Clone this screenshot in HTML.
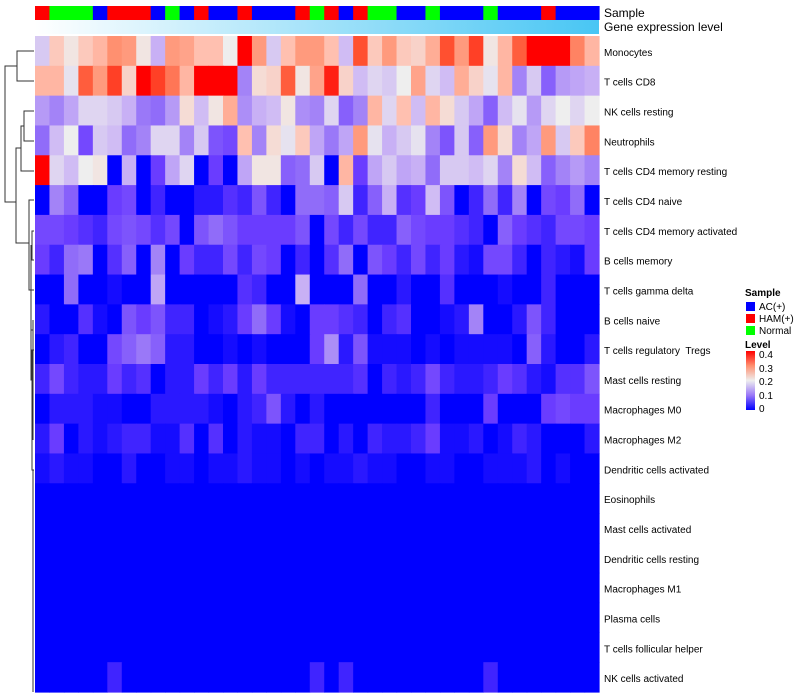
<!DOCTYPE html>
<html><head><meta charset="utf-8"><style>
body{margin:0;background:#fff;font-family:"Liberation Sans",sans-serif}
svg{display:block}
#rowlabels text{white-space:pre}
</style></head><body>
<svg id="chart" width="800" height="700" xmlns="http://www.w3.org/2000/svg">
<defs>
<linearGradient id="geneGrad" x1="0" x2="1" y1="0" y2="0"><stop offset="0" stop-color="#ffffff"/><stop offset="1" stop-color="#48c6f4"/></linearGradient>
<linearGradient id="levelGrad" x1="0" x2="0" y1="1" y2="0">
<stop offset="0" stop-color="#0000ff"/><stop offset="0.25" stop-color="#9a78f8"/><stop offset="0.5" stop-color="#eeeeee"/><stop offset="0.75" stop-color="#ff9070"/><stop offset="1" stop-color="#ff0000"/></linearGradient>
</defs>
<g id="cells"></g>
<g id="samplebar"></g>
<rect x="35" y="20" width="564" height="14" fill="url(#geneGrad)"/>
<text x="604" y="17" font-size="12">Sample</text>
<text x="604" y="31" font-size="12">Gene expression level</text>
<g id="rowlabels"></g>
<g fill="none" stroke="#333" stroke-width="1">
<path d="M34 51H17V81H34"/>
<path d="M17 66H5V202H16"/>
<path d="M34 111H24V141H34"/>
<path d="M24 126H21V171H34"/>
<path d="M21 148H16V243H29"/>
<path d="M34 200H29V290H31"/>
<path d="M34 231H32V260H34"/>
<path d="M31 245H31V330H33"/>
<path d="M34 290H31V380H33"/>
<path d="M33 320H33V440"/>
<path d="M34 350H32V470H34"/>
<path d="M33 470V692"/>
</g>
<g font-size="10">
<text x="745" y="296" font-weight="bold">Sample</text>
<rect x="746" y="302" width="9" height="9" fill="#0000ff"/>
<text x="759" y="310">AC(+)</text>
<rect x="746" y="314" width="9" height="9" fill="#ff0000"/>
<text x="759" y="322">HAM(+)</text>
<rect x="746" y="326" width="9" height="9" fill="#00ff00"/>
<text x="759" y="334">Normal</text>
<text x="745" y="348" font-weight="bold">Level</text>
<rect x="746" y="351" width="9" height="59" fill="url(#levelGrad)"/>
<text x="759" y="358">0.4</text>
<text x="759" y="372">0.3</text>
<text x="759" y="385">0.2</text>
<text x="759" y="399">0.1</text>
<text x="759" y="412">0</text>
</g>
</svg>
<script>
const rowNames=["Monocytes","T cells CD8","NK cells resting","Neutrophils","T cells CD4 memory resting","T cells CD4 naive","T cells CD4 memory activated","B cells memory","T cells gamma delta","B cells naive","T cells regulatory  Tregs","Mast cells resting","Macrophages M0","Macrophages M2","Dendritic cells activated","Eosinophils","Mast cells activated","Dendritic cells resting","Macrophages M1","Plasma cells","T cells follicular helper","NK cells activated"];
const sampleGroups="RGGGBRRRBGBRBBRBBBRGRBRGGBBGBBBGBBBRBBB".split("");
const Z=[0,0,0,0,0,0,0,0,0,0,0,0,0,0,0,0,0,0,0,0,0,0,0,0,0,0,0,0,0,0,0,0,0,0,0,0,0,0,0];
const values=[
[.17,.24,.21,.24,.26,.3,.29,.21,.15,.29,.28,.25,.25,.2,.4,.29,.17,.25,.29,.29,.25,.16,.35,.24,.29,.24,.23,.27,.35,.29,.36,.21,.26,.34,.4,.4,.4,.31,.26],
[.26,.26,.19,.34,.29,.36,.23,.4,.36,.32,.26,.4,.4,.4,.11,.22,.23,.34,.21,.28,.38,.23,.16,.18,.17,.2,.28,.18,.16,.27,.23,.19,.26,.11,.17,.08,.13,.14,.15],
[.13,.11,.14,.18,.18,.17,.15,.1,.09,.13,.22,.16,.21,.27,.12,.15,.16,.21,.12,.11,.18,.08,.11,.26,.18,.25,.16,.26,.22,.17,.14,.08,.16,.19,.13,.18,.2,.18,.2],
[.09,.16,.2,.06,.17,.16,.09,.11,.18,.18,.11,.17,.07,.06,.25,.11,.22,.19,.24,.14,.1,.14,.29,.19,.15,.17,.19,.11,.07,.17,.08,.29,.22,.11,.14,.29,.17,.24,.31],
[.4,.18,.16,.2,.21,0,.15,0,.05,.14,.18,0,.05,0,.14,.21,.21,.08,.09,.17,0,.26,.05,.14,.17,.14,.15,.09,.17,.17,.16,.18,.11,.22,.16,.08,.11,.13,.11],
[0,.11,.08,0,0,.05,.06,0,.03,0,0,.02,.02,.04,.03,.07,.03,0,.09,.09,.08,.17,.03,.08,.15,.04,.05,.16,.07,0,.03,.09,.03,.11,0,.06,.05,.09,0],
[.06,.06,.05,.04,.03,.06,.07,.06,.04,.06,0,.07,.09,.07,.05,.05,.05,.05,.07,0,.06,.03,.06,.03,.03,.08,.06,.05,.05,.04,.03,0,.08,.05,.04,.03,.06,.06,.05],
[.05,.03,.09,.1,0,.04,.08,0,.11,0,.05,.03,.03,.06,.03,.06,.05,0,.03,0,.04,.09,0,.07,.05,.03,.06,.03,.05,.02,.01,.06,.06,.03,0,.03,.02,.01,.05],
[0,0,.09,0,0,.01,0,0,.14,0,0,0,0,0,.04,.03,0,0,.15,0,0,0,.09,0,0,.02,0,0,.04,0,0,0,.01,0,0,.03,0,0,0],
[.02,0,0,.04,.01,0,.07,.05,.07,.03,.03,0,.01,.02,.05,.09,.05,.01,0,.05,.05,.04,.03,0,.03,.04,0,0,.01,.02,.11,0,0,.02,.07,.03,0,0,0],
[0,.02,.03,0,0,.06,.08,.1,.08,.02,.02,0,0,.01,0,.01,0,0,0,.05,.12,.02,.07,.01,.01,.01,0,.01,0,.01,.01,.01,.01,0,.08,.02,0,0,.02],
[.03,.06,.03,.02,.02,.05,.03,.04,0,.02,.02,.05,.03,.05,.02,.05,.03,.03,.03,.03,.03,.03,.04,0,.03,.02,.03,.06,.03,.02,.02,.03,.05,.04,.02,.01,.04,.04,.07],
[0,.02,.02,.02,.01,.01,0,0,.02,.02,.02,.02,.01,0,.02,.03,.07,.02,0,.02,0,0,0,0,0,0,0,.03,0,0,0,.05,0,0,0,.05,.06,.05,.05],
[.02,.05,0,.02,.01,.02,.03,.03,.01,.01,.04,0,.04,0,.02,.01,.01,0,.03,.03,0,.02,0,.03,.02,.02,.03,.05,.01,.01,.02,0,.01,.03,.02,0,0,0,.02],
[.01,.02,.01,.01,0,0,.02,0,0,.01,.01,0,.01,.01,.02,.01,.01,0,.01,0,.01,.01,.02,.01,.01,0,0,.01,.01,0,0,.01,.01,.01,.02,0,.01,0,0],
Z,Z,Z,Z,Z,Z,
[0,0,0,0,0,.03,0,0,0,0,0,0,0,0,0,0,0,0,0,.03,0,.03,0,0,0,0,0,0,0,0,0,.03,0,0,0,0,0,0,0]
];
const stops=[[0,[0,0,255]],[.05,[106,60,255]],[.1,[154,120,248]],[.15,[200,176,245]],[.2,[238,238,238]],[.25,[255,192,176]],[.3,[255,144,112]],[.35,[255,80,48]],[.4,[255,0,0]]];
function colorOf(v){v=Math.max(0,Math.min(.4,v));for(let i=1;i<stops.length;i++){if(v<=stops[i][0]){const a=stops[i-1],b=stops[i],t=(v-a[0])/(b[0]-a[0]);return "rgb("+a[1].map((c,k)=>Math.round(c+(b[1][k]-c)*t)).join(",")+")";}}return "rgb(255,0,0)";}
const groupColor={R:"#ff0000",G:"#00ff00",B:"#0000ff"};
const X0=35,X1=599,Y0=36,Y1=692;
const nCol=sampleGroups.length,nRow=rowNames.length;
const cw=(X1-X0)/nCol,rh=(Y1-Y0)/nRow;
const xAt=c=>X0+c*cw, yAt=r=>Y0+r*rh;
const NS="http://www.w3.org/2000/svg";
const cells=document.getElementById("cells"),sb=document.getElementById("samplebar"),rl=document.getElementById("rowlabels");
for(let r=0;r<nRow;r++){
 for(let c=0;c<nCol;c++){
  const e=document.createElementNS(NS,"rect");
  e.setAttribute("x",xAt(c));e.setAttribute("y",yAt(r));
  e.setAttribute("width",cw+0.6);e.setAttribute("height",rh+0.6);
  e.setAttribute("fill",colorOf(values[r][c]));
  
  
  cells.appendChild(e);
 }
 const t=document.createElementNS(NS,"text");
 t.setAttribute("x",604);t.setAttribute("y",yAt(r)+rh/2+5);t.setAttribute("font-size","10");
 t.textContent=rowNames[r];
 
 
 rl.appendChild(t);
}
for(let c=0;c<nCol;c++){
 const e=document.createElementNS(NS,"rect");
 e.setAttribute("x",xAt(c));e.setAttribute("y",6);e.setAttribute("width",cw+0.6);e.setAttribute("height",14);
 e.setAttribute("fill",groupColor[sampleGroups[c]]);
 
 
 sb.appendChild(e);
}
</script>
</body></html>
